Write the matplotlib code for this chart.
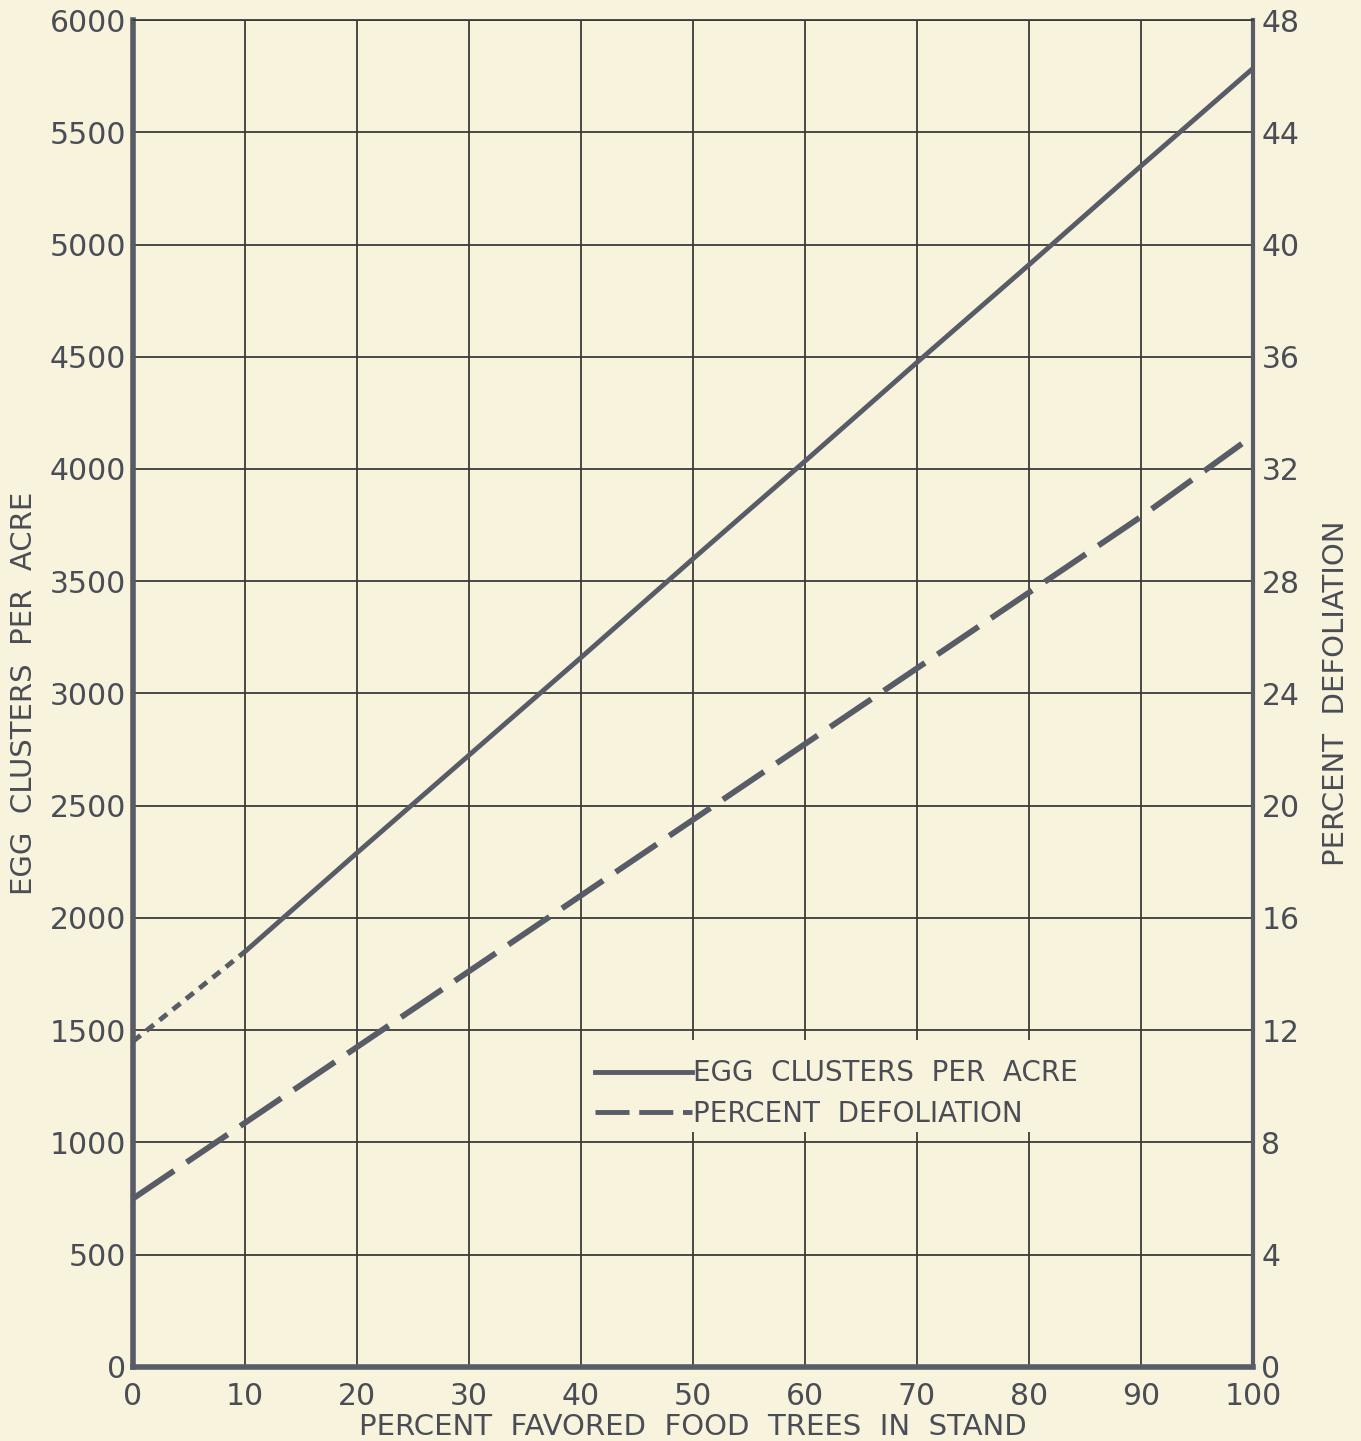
import matplotlib.pyplot as plt
from matplotlib.lines import Line2D
from matplotlib.patches import Rectangle

# data
pct_trees = [10, 20, 30, 40, 50, 60, 70, 80, 90, 100]
egg_clusters = [1850, 2290, 2725, 3160, 3600, 4035, 4475, 4910, 5350, 5785]
extrap_x = [0, 10]
extrap_egg = [1450, 1850]

defol_x = [0, 10, 20, 30, 40, 50, 60, 70, 80, 90, 99]
defoliation = [6.0, 8.7, 11.4, 14.1, 16.8, 19.5, 22.2, 24.9, 27.6, 30.3, 32.9]

x_ticks = list(range(0, 101, 10))
left_ticks = list(range(0, 6001, 500))
right_ticks = list(range(0, 49, 4))

paper = '#f8f3dc'
ink = '#575c66'
grid_ink = '#3a3a3a'
text_ink = '#4a4d55'

plt.rcParams['font.family'] = ['DejaVu Sans']

fig = plt.figure(figsize=(13.61, 14.41), dpi=100, facecolor=paper)
ax = fig.add_axes([0.0977, 0.0514, 0.823, 0.9347])
ax.set_facecolor(paper)

ax.set_xlim(0, 100)
ax.set_ylim(0, 6000)
ax.set_xticks(x_ticks)
ax.set_yticks(left_ticks)
ax.grid(True, color=grid_ink, linewidth=1.3)
ax.set_axisbelow(True)
ax.tick_params(axis='y', length=0, labelsize=21.5, colors=text_ink, pad=5)
ax.tick_params(axis='x', length=0, labelsize=21.5, colors=text_ink, pad=11)

for side, lw in [('left', 4), ('bottom', 4), ('right', 3), ('top', 1.3)]:
    ax.spines[side].set_linewidth(lw)
    ax.spines[side].set_color(ink if lw > 2 else grid_ink)

# the legend sits on a blank patch of the grid
ax.add_patch(Rectangle((40.4, 1045), 49.2, 410, facecolor=paper,
                       edgecolor='none', zorder=1.5))

ax.plot(pct_trees, egg_clusters, color=ink, linewidth=3.5,
        solid_capstyle='round', zorder=3)
ax.plot(extrap_x, extrap_egg, color=ink, linewidth=3.5,
        dashes=(2.0, 1.5), zorder=3)

ax2 = ax.twinx()
ax2.set_ylim(0, 48)
ax2.set_yticks(right_ticks)
ax2.tick_params(length=0, labelsize=21.5, colors=text_ink, pad=6)
for s in ax2.spines.values():
    s.set_visible(False)
ax2.plot(defol_x, defoliation, color=ink, linewidth=4.2,
         dashes=(8.5, 2.6), zorder=3)

ax.set_xlabel('PERCENT  FAVORED  FOOD  TREES  IN  STAND', fontsize=21,
              color=text_ink, labelpad=1)
ax.set_ylabel('EGG  CLUSTERS  PER  ACRE', fontsize=21, color=text_ink,
              labelpad=8)
ax2.set_ylabel('PERCENT  DEFOLIATION', fontsize=21, color=text_ink,
               labelpad=16)

handles = [Line2D([], [], color=ink, linewidth=3.5),
           Line2D([], [], color=ink, linewidth=3.5, dashes=(7, 2))]
ax.legend(handles, ['EGG  CLUSTERS  PER  ACRE', 'PERCENT  DEFOLIATION'],
          loc='upper left', bbox_to_anchor=(0.39, 0.247), frameon=False,
          fontsize=20, handlelength=3.5, handletextpad=0.05,
          labelcolor=text_ink, labelspacing=0.45)

fig.savefig('out.png', dpi=100, facecolor=paper)
